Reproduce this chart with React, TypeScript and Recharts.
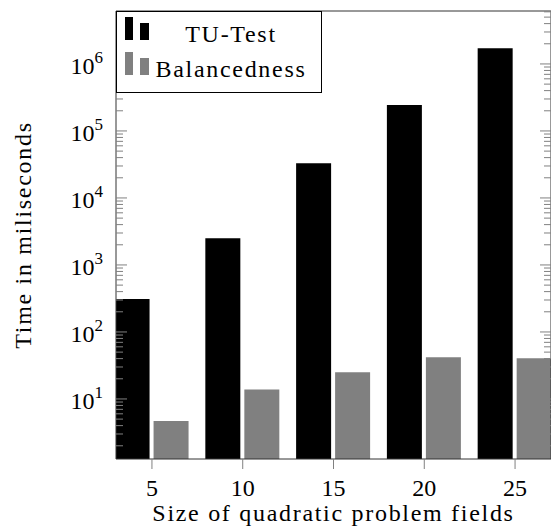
import { ComposedChart, Bar, Line, XAxis, YAxis, Legend } from 'recharts';

const sizes = [5, 10, 15, 20, 25];
const tuTest = [310, 2500, 33000, 244000, 1710000];
const balancedness = [4.7, 13.8, 25, 41.9, 40.4];
const seriesNames = ['TU-Test', 'Balancedness'];
const seriesColors = ['#000', '#808080'];
const xTicks = [5, 10, 15, 20, 25];
const yMajorTicks = [10, 100, 1000, 10000, 100000, 1000000];
const yExponents = ['1', '2', '3', '4', '5', '6'];
const minorSteps = [2, 3, 4, 5, 6, 7, 8, 9];
const decades = [1, 10, 100, 1000, 10000, 100000, 1000000];

const yDomain = [1.27, 6.17e6];
const xDomain = [3.02, 26.98];
const yMinorTicks = decades
  .flatMap((d) => minorSteps.map((m) => m * d))
  .filter((v) => v > yDomain[0] && v < yDomain[1]);
const yAllTicks = [...yMajorTicks, ...yMinorTicks].sort((a, b) => a - b);

const data = sizes.map((size, i) => ({ size, tu: tuTest[i], bal: balancedness[i] }));

const FONT = "'Liberation Serif', serif";
const AXIS = '#333';
const TICK = '#808080';

// left side: label outside for decades, tick mark pointing into the plot
const LeftTick = ({ x, y, payload }: any) => {
  const i = yMajorTicks.indexOf(payload.value);
  const major = i >= 0;
  return (
    <g>
      <line x1={x} x2={x + (major ? 11 : 7)} y1={y} y2={y} stroke={TICK} />
      {major && (
        <text x={x - 13} y={y + 10} textAnchor="end" fontFamily={FONT} fontSize={24} fill="#000">
          <tspan>10</tspan>
          <tspan dy={-11} fontSize={17}>{yExponents[i]}</tspan>
        </text>
      )}
    </g>
  );
};

const RightTick = ({ x, y, payload }: any) => {
  const major = yMajorTicks.includes(payload.value);
  return <line x1={x} x2={x - (major ? 11 : 7)} y1={y} y2={y} stroke={TICK} />;
};

const XLabel = ({ x, y, payload }: any) => (
  <text x={x} y={y + 27} textAnchor="middle" fontFamily={FONT} fontSize={24} fill="#000">
    {payload.value}
  </text>
);

// pgfplots-style legend box, entries in plotting order
const LegendBox = () => (
  <svg width={206} height={83}>
    <rect x={0.5} y={0.5} width={205} height={81} fill="#fff" stroke="#000" strokeWidth={1} />
    {seriesNames.map((name, i) => (
      <g key={name} transform={`translate(0, ${i * 35})`}>
        <rect x={9} y={6} width={8} height={23} fill={seriesColors[i]} />
        <rect x={24} y={12} width={9} height={17} fill={seriesColors[i]} />
        <text x={115} y={31} textAnchor="middle" fontFamily={FONT} fontSize={24} letterSpacing={1.7} fill="#000">
          {name}
        </text>
      </g>
    ))}
  </svg>
);

export default function App() {
  return (
    <div style={{ position: 'absolute', left: 0, top: 0 }}>
      <ComposedChart
        width={551}
        height={530}
        data={data}
        margin={{ top: 10, right: 0, left: 0, bottom: 0 }}
        barGap={4}
      >
        <XAxis
          dataKey="size"
          type="number"
          domain={xDomain}
          allowDataOverflow
          ticks={xTicks}
          height={71}
          tickSize={10}
          tickMargin={0}
          stroke={AXIS}
          tickLine={{ stroke: TICK }}
          tick={<XLabel />}
          label={(props: any) => {
            const vb = props.viewBox;
            return (
              <text
                x={vb.x + vb.width / 2}
                y={vb.y + 62}
                textAnchor="middle"
                fontFamily={FONT}
                fontSize={24}
                letterSpacing={1.7}
                fill="#000"
              >
                Size of quadratic problem fields
              </text>
            );
          }}
        />
        <XAxis
          xAxisId="top"
          dataKey="size"
          orientation="top"
          type="number"
          domain={xDomain}
          allowDataOverflow
          ticks={xTicks}
          height={1}
          tickSize={11}
          tick={false}
          stroke={AXIS}
          tickLine={{ stroke: TICK }}
        />
        <YAxis
          yAxisId="y"
          scale="log"
          type="number"
          domain={yDomain}
          allowDataOverflow
          ticks={yAllTicks}
          interval={0}
          width={116}
          tickSize={0}
          tickMargin={0}
          tickLine={false}
          stroke={AXIS}
          tick={<LeftTick />}
          label={(props: any) => {
            const vb = props.viewBox;
            const cx = 31;
            const cy = vb.y + vb.height / 2;
            return (
              <text
                x={cx}
                y={cy}
                transform={`rotate(-90, ${cx}, ${cy})`}
                textAnchor="middle"
                fontFamily={FONT}
                fontSize={24}
                letterSpacing={1.7}
                fill="#000"
              >
                Time in miliseconds
              </text>
            );
          }}
        />
        <YAxis
          yAxisId="r"
          orientation="right"
          mirror
          scale="log"
          type="number"
          domain={yDomain}
          allowDataOverflow
          ticks={yAllTicks}
          interval={0}
          width={1}
          tickSize={0}
          tickMargin={0}
          tickLine={false}
          stroke={AXIS}
          tick={<RightTick />}
        />
        <Legend
          layout="vertical"
          align="center"
          verticalAlign="middle"
          content={<LegendBox />}
          wrapperStyle={{ position: 'absolute', left: 116, top: 11, width: 206, height: 83 }}
        />
        <Bar yAxisId="y" dataKey="tu" name="TU-Test" fill={seriesColors[0]} barSize={35} isAnimationActive={false} />
        <Bar yAxisId="y" dataKey="bal" name="Balancedness" fill={seriesColors[1]} barSize={35} isAnimationActive={false} />
        {/* carries the top and right frame axes; draws nothing */}
        <Line
          xAxisId="top"
          yAxisId="r"
          dataKey="tu"
          stroke="none"
          dot={false}
          activeDot={false}
          legendType="none"
          isAnimationActive={false}
        />
      </ComposedChart>
    </div>
  );
}
